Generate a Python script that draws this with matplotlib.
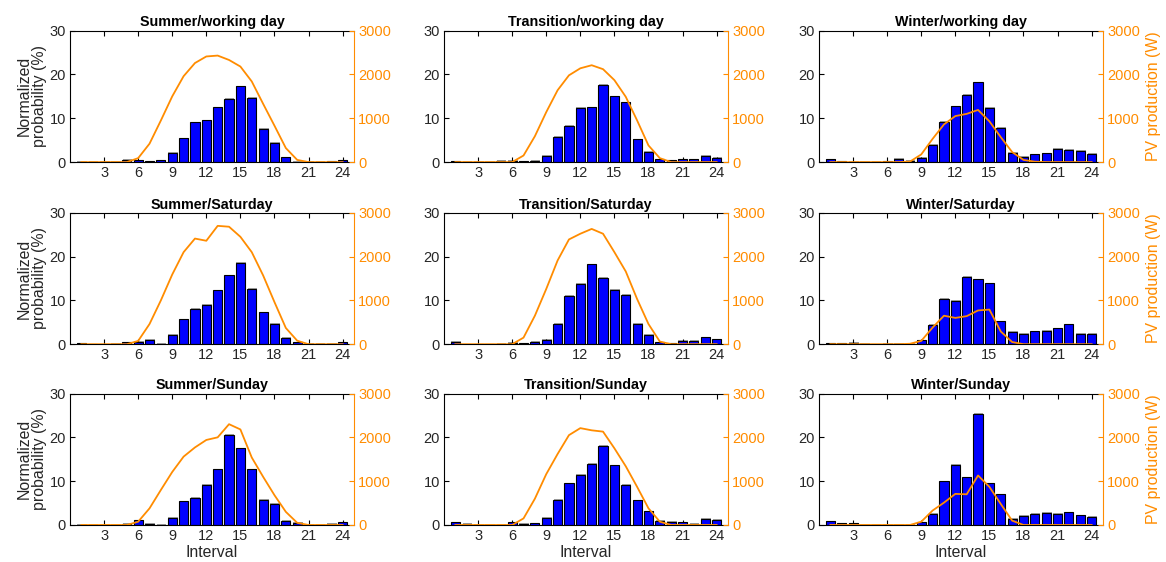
import numpy as np
import matplotlib.pyplot as plt

plt.rcParams['font.family'] = ['Liberation Sans', 'DejaVu Sans']

intervals = np.arange(1, 25)

seasons = ["Summer", "Transition", "Winter"]
days = ["working day", "Saturday", "Sunday"]

# normalized probability (%) per interval
prob_summer_work = [0.1, 0, 0, 0, 0.5, 0.4, 0.2, 0.4, 2.1, 5.4, 9.1, 9.5,
                    12.5, 14.4, 17.3, 14.7, 7.6, 4.4, 1.1, 0.1, 0, 0, 0.2, 0.4]
prob_trans_work = [0.2, 0, 0, 0, 0.3, 0.3, 0.2, 0.3, 1.45, 5.7, 8.2, 12.4,
                   12.5, 17.6, 15.0, 13.6, 5.2, 2.4, 0.6, 0.4, 0.6, 0.6, 1.4, 1.0]
prob_winter_work = [0.6, 0.2, 0.1, 0, 0, 0.2, 0.8, 0.3, 0.9, 4.0, 9.2, 12.7,
                    15.3, 18.2, 12.4, 7.8, 2.1, 1.2, 1.75, 2.0, 3.1, 2.8, 2.6, 1.9]
prob_summer_sat = [0.2, 0, 0, 0.1, 0.4, 0.5, 1.0, 0.1, 2.1, 5.7, 8.0, 9.0,
                   12.3, 15.7, 18.6, 12.6, 7.3, 4.7, 1.45, 0.4, 0.1, 0.1, 0.1, 0.4]
prob_trans_sat = [0.5, 0, 0, 0, 0.1, 0.3, 0.2, 0.5, 1.0, 4.7, 11.0, 13.8,
                  18.2, 15.1, 12.4, 11.2, 4.7, 2.1, 0.4, 0.2, 0.7, 0.8, 1.6, 1.1]
prob_winter_sat = [0.2, 0.2, 0.3, 0.1, 0, 0.1, 0.1, 0.1, 0.9, 4.4, 10.3, 9.9,
                   15.4, 14.8, 13.9, 5.2, 2.8, 2.3, 2.9, 3.1, 3.6, 4.5, 2.4, 2.4]
prob_summer_sun = [0.1, 0, 0, 0, 0.2, 1.05, 0.3, 0.1, 1.6, 5.4, 6.2, 9.2,
                   12.7, 20.5, 17.5, 12.7, 5.7, 4.9, 0.9, 0.5, 0, 0, 0.2, 0.6]
prob_trans_sun = [0.6, 0.2, 0, 0, 0, 0.6, 0.3, 0.4, 1.7, 5.7, 9.5, 11.5,
                  14.0, 18.1, 13.6, 9.1, 5.6, 3.1, 0.9, 0.7, 0.6, 0.3, 1.4, 1.2]
prob_winter_sun = [0.8, 0.4, 0.4, 0, 0, 0, 0, 0.05, 0.6, 2.5, 9.95, 13.8,
                   10.9, 25.4, 9.5, 7.0, 1.4, 2.05, 2.6, 2.8, 2.6, 2.9, 2.2, 1.8]

# mean PV production (W) per interval
pv_summer_work = [0, 0, 0, 0, 0, 90, 420, 950, 1500, 1960, 2260, 2410,
                  2430, 2330, 2180, 1840, 1330, 830, 320, 50, 0, 0, 0, 0]
pv_trans_work = [0, 0, 0, 0, 0, 0, 150, 590, 1140, 1640, 1980, 2140,
                 2210, 2120, 1870, 1490, 950, 380, 90, 0, 0, 0, 0, 0]
pv_winter_work = [0, 0, 0, 0, 0, 0, 0, 10, 175, 530, 860, 1050,
                  1100, 1190, 930, 570, 230, 50, 10, 0, 0, 0, 0, 0]
pv_summer_sat = [0, 0, 0, 0, 0, 75, 460, 1000, 1590, 2100, 2410, 2360,
                 2700, 2680, 2450, 2100, 1570, 960, 370, 80, 0, 0, 0, 0]
pv_trans_sat = [0, 0, 0, 0, 0, 0, 150, 650, 1260, 1910, 2390, 2520,
                2630, 2520, 2100, 1660, 1030, 460, 60, 0, 0, 0, 0, 0]
pv_winter_sat = [0, 0, 0, 0, 0, 0, 0, 10, 75, 380, 650, 600,
                 640, 770, 790, 290, 50, 0, 0, 0, 0, 0, 0, 0]
pv_summer_sun = [0, 0, 0, 0, 0, 75, 380, 800, 1210, 1560, 1770, 1940,
                 2000, 2300, 2180, 1540, 1100, 680, 300, 50, 0, 0, 0, 0]
pv_trans_sun = [0, 0, 0, 0, 0, 0, 150, 600, 1160, 1620, 2050, 2210,
                2160, 2130, 1750, 1340, 870, 380, 75, 0, 0, 0, 0, 0]
pv_winter_sun = [0, 0, 0, 0, 0, 0, 0, 0, 75, 330, 510, 710,
                 700, 1130, 870, 480, 100, 0, 0, 0, 0, 0, 0, 0]

prob = [[prob_summer_work, prob_trans_work, prob_winter_work],
        [prob_summer_sat, prob_trans_sat, prob_winter_sat],
        [prob_summer_sun, prob_trans_sun, prob_winter_sun]]
pv = [[pv_summer_work, pv_trans_work, pv_winter_work],
      [pv_summer_sat, pv_trans_sat, pv_winter_sat],
      [pv_summer_sun, pv_trans_sun, pv_winter_sun]]

orange = '#FF8C00'
W, H = 1166, 562
fig = plt.figure(figsize=(W / 100, H / 100), dpi=100)

col_left = [70, 444, 819]
row_top = [30.6, 212.7, 393.5]
ax_w, ax_h = 284, 131.5

for r in range(3):
    for c in range(3):
        ax = fig.add_axes([col_left[c] / W, 1 - (row_top[r] + ax_h) / H,
                           ax_w / W, ax_h / H])
        vals = prob[r][c]
        # soft gray shadow behind each bar
        ax.bar(intervals + 0.06, np.array(vals) + 0.15, width=0.84,
               color='#a0a0a0', edgecolor='none', zorder=1)
        ax.bar(intervals, vals, width=0.8, color='#0000FF',
               edgecolor='black', linewidth=0.8, zorder=2)
        ax.set_xlim(0, 25)
        ax.set_ylim(0, 30)
        ax.set_xticks(range(3, 25, 3))
        ax.set_yticks([0, 10, 20, 30])
        ax.tick_params(direction='in', length=3.5, width=0.8, labelsize=10.5,
                       top=True, colors='black', labelcolor='#262626', pad=3)
        ax.tick_params(axis='y', right=False)
        ax.spines['right'].set_visible(False)
        for s in ['left', 'top', 'bottom']:
            ax.spines[s].set_linewidth(0.8)
        ax.set_title(f"{seasons[c]}/{days[r]}", fontsize=10.3,
                     fontweight='bold', pad=3)
        if c == 0:
            ax.set_ylabel("Normalized\nprobability (%)", fontsize=11.4,
                          color='#262626', labelpad=2, linespacing=1.0)
        if r == 2:
            ax.set_xlabel("Interval", fontsize=11.4, color='#262626',
                          labelpad=1)

        ax2 = ax.twinx()
        ax2.plot(intervals, pv[r][c], color=orange, linewidth=1.3, zorder=3)
        ax2.set_ylim(0, 3000)
        ax2.set_yticks([0, 1000, 2000, 3000])
        ax2.tick_params(direction='in', length=3.5, width=0.8, labelsize=10.5,
                        colors=orange, pad=3)
        ax2.spines['right'].set_color(orange)
        ax2.spines['right'].set_linewidth(0.8)
        for s in ['left', 'top', 'bottom']:
            ax2.spines[s].set_visible(False)
        if c == 2:
            ax2.set_ylabel("PV production (W)", fontsize=11.4, color=orange,
                           labelpad=4)

fig.savefig("out.png", dpi=100)
